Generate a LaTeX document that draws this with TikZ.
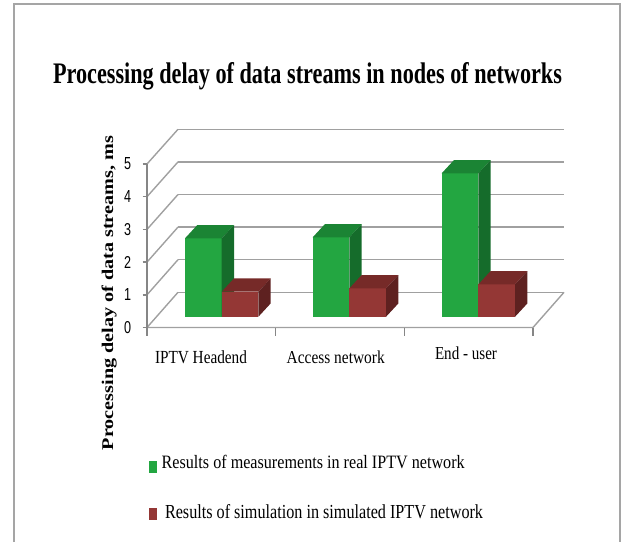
\documentclass[tikz,border=0pt]{standalone}
\usepackage{fontspec}
\usepackage{graphicx}
\setmainfont{Liberation Serif}
\newfontfamily\numfont{Liberation Sans}

\definecolor{framegray}{RGB}{165,165,165}
\definecolor{gridgray}{RGB}{160,160,160}
\definecolor{axisgray}{RGB}{134,134,134}
\definecolor{grfront}{RGB}{35,166,65}
\definecolor{grtop}{RGB}{27,132,52}
\definecolor{grside}{RGB}{21,108,43}
\definecolor{rdfront}{RGB}{148,55,53}
\definecolor{rdtop}{RGB}{118,42,40}
\definecolor{rdside}{RGB}{94,33,32}

% squeeze a text into a given width and height
\newcommand{\fitbox}[3]{\resizebox{#1}{#2}{#3}}
% one 3-D column: left x, top y, front/top/side colours
\def\colbase{316.7}
\newcommand{\drawcol}[5]{%
  \fill[#3] (#1,\colbase) rectangle (#1+36.7,#2);
  \fill[#4] (#1,#2) -- (#1+36.7,#2) -- (#1+49,#2-13.3) -- (#1+12.3,#2-13.3) -- cycle;
  \fill[#5] (#1+36.7,\colbase) -- (#1+36.7,#2) -- (#1+49,#2-13.3) -- (#1+49,\colbase-13.3) -- cycle;
}

\tikzset{
  gridline/.style={draw=gridgray, line width=1.4pt},
  axisline/.style={draw=axisgray, line width=1.4pt},
  label/.style={inner sep=0pt, outer sep=0pt, anchor=base west},
  ticknum/.style={inner sep=0pt, outer sep=0pt, anchor=center, font=\numfont},
}

\begin{document}
\begin{tikzpicture}[x=1pt,y=-1pt]
\useasboundingbox (0,0) rectangle (621,542);

% outer frame, open at the bottom
\draw[framegray, line width=1.6pt] (14,542) -- (14,4) -- (620,4) -- (620,542);

% title
\node[label] (title) at (53,83.3)
  {\fitbox{509pt}{21pt}{\bfseries Processing delay of data streams in nodes of networks}};

% floor corners
\coordinate (fl) at (147,327.5);
\coordinate (fr) at (533,327.5);
\coordinate (br) at (564,292.3);

% back wall grid and left wall diagonals
\foreach \v in {0,...,5}{
  \draw[gridline] (178,292.3-32.6*\v) -- (564,292.3-32.6*\v);
  \draw[gridline] (147,327.5-32.7*\v) -- (178,292.3-32.6*\v);
}
% floor front and right edges
\draw[gridline] (fl) -- (fr) -- (br);

% value axis with ticks and numbers
\draw[axisline] (147,164) -- (147,336);
\foreach \v in {0,...,5}{
  \draw[axisline] (142.5,327.5-32.7*\v) -- (147,327.5-32.7*\v);
  \node[ticknum] (n\v) at (127.5,327.5-32.7*\v) {\fitbox{7pt}{12pt}{\v}};
}
% category ticks
\foreach \x in {275.7,404.3,533}{
  \draw[axisline] (\x,327.5) -- (\x,336);
}

% columns
\drawcol{185}{238.3}{grfront}{grtop}{grside}
\drawcol{221.7}{291.7}{rdfront}{rdtop}{rdside}
\drawcol{312.7}{237.3}{grfront}{grtop}{grside}
\drawcol{349.4}{288.3}{rdfront}{rdtop}{rdside}
\drawcol{441.7}{173.3}{grfront}{grtop}{grside}
\drawcol{478.4}{284.3}{rdfront}{rdtop}{rdside}

% category labels
\node[label] (c1) at (155,363.3) {\fitbox{92pt}{12.8pt}{IPTV Headend}};
\node[label] (c2) at (286.7,363.3) {\fitbox{98pt}{12.6pt}{Access network}};
\node[label] (c3) at (435,359.3) {\fitbox{62pt}{12.7pt}{End - user}};

% value axis title
\node[label, rotate=90] (ytitle) at (113,450)
  {\fitbox{314pt}{11.5pt}{\bfseries Processing delay of data streams, ms}};

% legend
\fill[grfront] (149,460.7) rectangle (157.3,473.3);
\node[label] (leg1) at (161.7,468.3) {\fitbox{303pt}{13.3pt}{Results of measurements in real IPTV network}};
\fill[rdfront] (149,508.3) rectangle (157.3,520);
\node[label] (leg2) at (165,518.3) {\fitbox{318pt}{14pt}{Results of simulation in simulated IPTV network}};
\end{tikzpicture}
\end{document}
